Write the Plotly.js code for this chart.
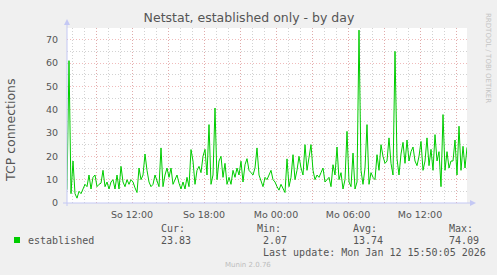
<!DOCTYPE html>
<html>
<head>
<meta charset="utf-8">
<script src="https://cdn.plot.ly/plotly-3.0.1.min.js"></script>
<style>html,body{margin:0;padding:0;background:#f0f0f0;}#chart{width:497px;height:275px;}</style>
</head>
<body>
<div id="chart"></div>
<script>
// ---- data (TCP established connections, 10-minute samples) ----
var seriesName = "established";
var startTime = "2026-01-11T06:35:00";   // left edge of graph
var stepMinutes = 10;

var connSunMorning = [5.7, 61, 4, 18, 4, 2.07, 5, 4, 6, 8, 7, 12, 6, 11, 12, 7, 8, 8.5, 14, 7, 9, 6, 9, 10, 6, 12, 6, 15.7, 9, 7, 10, 8, 10, 9];
var connSunAfternoon = [6.5, 4.5, 15, 10, 12, 21, 14, 9, 7, 8, 12, 9, 7, 23.6, 7, 12, 15, 11, 15, 8, 10, 12, 8.5, 6, 9, 6, 11, 7, 22.9, 18, 8, 14, 15.7, 13];
var connSunEvening = [20, 23, 12, 33.6, 8, 12, 40.7, 10, 18, 20, 11, 17, 8, 11, 8, 14, 11, 15, 12, 17.9, 9, 16.4, 19, 14, 13, 12, 15, 23.6, 12, 9, 7, 11, 10, 12];
var connMonNight = [14, 10, 9, 7, 5.5, 8, 6, 4.5, 18.9, 7, 11, 20.7, 10, 14, 20, 15, 12, 25, 14, 20, 25, 14, 10, 12, 11, 13, 15, 9, 10, 11, 7, 16.4, 12, 24];
var connMonMorning = [10, 13, 6, 10, 30.7, 9, 7, 21.4, 6, 9, 74.09, 14, 8, 15, 33.6, 8, 13, 11, 10, 20.7, 14, 25, 20, 17, 18, 27.9, 17, 12, 65, 19, 12, 21, 26, 17];
var connMonAfternoon = [27, 18, 22, 24, 18, 16, 20, 26.4, 14, 18, 27.9, 16, 23, 14, 29.3, 18, 22, 7, 37.9, 14, 22, 15, 18, 18, 27, 12, 32.9, 14, 24.3, 15, 23.83];

var tickVals = ["2026-01-11 09:00", "2026-01-11 12:00", "2026-01-11 15:00", "2026-01-11 18:00", "2026-01-11 21:00",
                "2026-01-12 00:00", "2026-01-12 03:00", "2026-01-12 06:00", "2026-01-12 09:00", "2026-01-12 12:00", "2026-01-12 15:00"];
var tickText = ["", "So 12:00", "", "So 18:00", "", "Mo 00:00", "", "Mo 06:00", "", "Mo 12:00", ""];
var xRange = ["2026-01-11 06:35", "2026-01-12 15:55"];
var yRange = [0, 75];

var statLabels = ["Cur:", "Min:", "Avg:", "Max:"];
var statValues = ["23.83", "2.07", "13.74", "74.09"];
var lastUpdate = "Last update: Mon Jan 12 15:50:05 2026";

// ---- build ----
var values = [].concat(connSunMorning, connSunAfternoon, connSunEvening, connMonNight, connMonMorning, connMonAfternoon);
function pad(n){return (n<10?"0":"")+n;}
var t0 = Date.UTC(2026,0,11,6,35,0);
var times = values.map(function(v,i){
  var d = new Date(t0 + i*stepMinutes*60000);
  return d.getUTCFullYear()+"-"+pad(d.getUTCMonth()+1)+"-"+pad(d.getUTCDate())+" "+pad(d.getUTCHours())+":"+pad(d.getUTCMinutes());
});

var W=400, H=175, L=67, T=28;
function px(x){return (x-L)/W;}
function py(y){return (T+H-y)/H;}

var majorGrid = "rgba(232,150,150,0.65)";
var minorGrid = "#d2d2d2";
var axisCol = "#c4c8f4";
var sans = "DejaVu Sans";
var mono = "DejaVu Sans Mono";
var txt = "#555555";

var trace = {
  x: times, y: values, type: "scatter", mode: "lines", name: seriesName,
  line: {color: "#00cc00", width: 1}, hoverinfo: "skip"
};

var statX = [159, 255, 351, 447];
var statValX = [159, 261, 351, 447];
var annotations = [
  {text: "TCP connections", textangle: -90, xref: "paper", yref: "paper", x: px(10), y: py(130),
   showarrow: false, xanchor: "center", yanchor: "middle", font: {family: sans, size: 12.5, color: txt}},
  {text: seriesName, xref: "paper", yref: "paper", x: px(26), y: py(240), showarrow: false,
   xanchor: "left", yanchor: "middle", font: {family: mono, size: 10, color: txt}},
  {text: lastUpdate, xref: "paper", yref: "paper", x: px(261), y: py(252), showarrow: false,
   xanchor: "left", yanchor: "middle", font: {family: mono, size: 10, color: txt}},
  {text: "Munin 2.0.76", xref: "paper", yref: "paper", x: px(248), y: py(265), showarrow: false,
   xanchor: "center", yanchor: "middle", font: {family: sans, size: 7, color: "#bdbdbd"}},
  {text: "RRDTOOL / TOBI OETIKER", textangle: 90, xref: "paper", yref: "paper", x: px(488), y: py(58), showarrow: false,
   xanchor: "center", yanchor: "middle", font: {family: sans, size: 7, color: "#c4c4c4"}}
];
statLabels.forEach(function(s,i){
  annotations.push({text: s, xref: "paper", yref: "paper", x: px(statX[i]), y: py(228), showarrow: false,
    xanchor: "left", yanchor: "middle", font: {family: mono, size: 10, color: txt}});
  annotations.push({text: statValues[i], xref: "paper", yref: "paper", x: px(statValX[i]), y: py(240), showarrow: false,
    xanchor: "left", yanchor: "middle", font: {family: mono, size: 10, color: txt}});
});

var shapes = [
  {type: "line", xref: "paper", yref: "paper", x0: 0, x1: 0, y0: py(206), y1: py(24), line: {color: axisCol, width: 1}},
  {type: "line", xref: "paper", yref: "paper", x0: px(63), x1: px(471), y0: 0, y1: 0, line: {color: axisCol, width: 1}},
  {type: "path", xref: "paper", yref: "paper", fillcolor: axisCol, line: {width: 0},
   path: "M "+px(64)+" "+py(25)+" L "+px(70)+" "+py(25)+" L "+px(67)+" "+py(19)+" Z"},
  {type: "path", xref: "paper", yref: "paper", fillcolor: axisCol, line: {width: 0},
   path: "M "+px(470)+" "+py(200)+" L "+px(470)+" "+py(206)+" L "+px(476)+" "+py(203)+" Z"},
  {type: "rect", xref: "paper", yref: "paper", x0: px(14), x1: px(20), y0: py(243), y1: py(237),
   fillcolor: "#00cc00", line: {width: 0}}
];

var layout = {
  width: 497, height: 275,
  margin: {l: 67, r: 30, t: 28, b: 72, pad: 0},
  paper_bgcolor: "#f0f0f0", plot_bgcolor: "#ffffff",
  showlegend: false,
  title: {text: "Netstat, established only - by day", font: {family: sans, size: 12.5, color: txt},
          x: 0.501, xref: "container", xanchor: "center", y: 1-18/275, yref: "container", yanchor: "middle"},
  xaxis: {
    type: "date", range: xRange, tickmode: "array", tickvals: tickVals, ticktext: tickText,
    showgrid: true, gridcolor: majorGrid, griddash: "1px,2px", gridwidth: 1,
    zeroline: false, showline: false, ticks: "outside", ticklen: 3, tickcolor: "rgba(0,0,0,0)",
    tickfont: {family: sans, size: 9.5, color: txt}, fixedrange: true,
    minor: {dtick: 3600000, tick0: "2026-01-11 00:00", showgrid: true, gridcolor: minorGrid, griddash: "1px,2px", gridwidth: 1, ticks: ""}
  },
  yaxis: {
    range: yRange, tickmode: "linear", tick0: 0, dtick: 10,
    showgrid: true, gridcolor: majorGrid, griddash: "1px,2px", gridwidth: 1,
    zeroline: false, showline: false, ticks: "outside", ticklen: 6, tickcolor: "rgba(0,0,0,0)",
    tickfont: {family: sans, size: 9.5, color: txt}, fixedrange: true,
    minor: {dtick: 5, tick0: 0, showgrid: true, gridcolor: minorGrid, griddash: "1px,2px", gridwidth: 1, ticks: ""}
  },
  shapes: shapes,
  annotations: annotations
};

Plotly.newPlot("chart", [trace], layout, {staticPlot: true, displayModeBar: false});
</script>
</body>
</html>
